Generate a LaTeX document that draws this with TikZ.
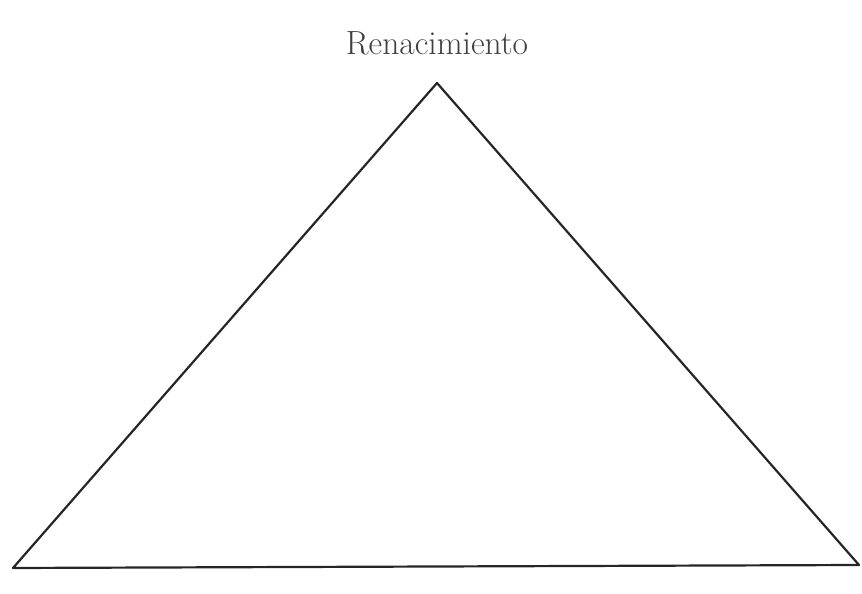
\documentclass[tikz,border=0pt]{standalone}
\usepackage{tikz}
\usetikzlibrary{positioning}

\begin{document}
\begin{tikzpicture}[x=1pt,y=1pt]
  \tikzstyle{EdgeStyle}=[line width=2.2pt,draw=black!85,line join=round]
  \tikzstyle{LabelStyle}=[font=\fontsize{33.5}{40}\selectfont,text=black!75,inner sep=0pt]
  \useasboundingbox (0,0) rectangle (862,594);
  \coordinate (top)   at (437,511);
  \coordinate (left)  at (13,26);
  \coordinate (right) at (859,29);
  \node [LabelStyle,anchor=base] (ren) at (437,539) {Renacimiento};
  \draw[EdgeStyle] (left) -- (top) -- (right) -- cycle;
\end{tikzpicture}
\end{document}
